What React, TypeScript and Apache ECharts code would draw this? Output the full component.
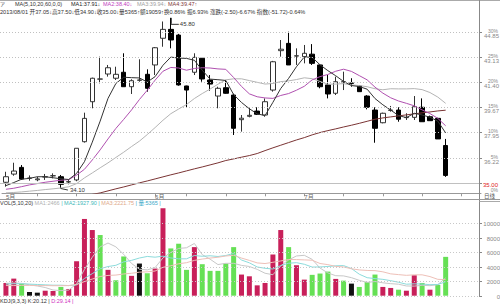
import React, { useEffect, useRef } from 'react';
import * as echarts from 'echarts';

const slotLabels = Array.from({ length: 61 }, (_, i) => String(i + 1));
const opens = [34.53, 35.09, 35.55, 34.80, 34.70, 34.89, 34.97, 34.91, 34.55, 34.69, 37.31, 40.05, 41.60, 41.95, 41.66, 42.07, 41.08, 41.52, 41.93, 42.57, 44.40, 45.01, 44.62, 41.13, 42.07, 43.03, 41.54, 40.44, 41.01, 40.51, 38.82, 39.05, 39.41, 39.14, 40.85, 43.55, 44.05, 43.18, 43.14, 43.31, 42.57, 41.20, 40.63, 41.40, 41.33, 41.13, 40.44, 39.48, 38.61, 39.46, 39.48, 38.96, 38.98, 39.67, 39.02, 38.91, 37.05];
const closes = [34.91, 35.30, 34.75, 34.82, 34.76, 34.91, 34.98, 34.39, 34.57, 36.86, 38.91, 41.66, 41.61, 42.38, 41.93, 41.08, 41.49, 41.54, 40.97, 43.75, 45.01, 44.28, 41.20, 40.85, 43.09, 41.61, 41.26, 40.97, 40.63, 38.23, 38.92, 39.12, 39.19, 40.05, 42.79, 43.65, 42.57, 43.20, 43.37, 42.68, 41.08, 40.58, 41.42, 41.42, 41.31, 40.74, 39.67, 38.23, 39.26, 39.48, 38.85, 38.98, 39.71, 38.68, 38.75, 37.50, 35.00];
const lows = [34.23, 34.98, 34.69, 34.64, 34.60, 34.69, 34.80, 34.10, 34.39, 34.60, 37.25, 39.60, 41.31, 41.77, 41.54, 41.08, 40.58, 41.42, 40.74, 41.88, 43.82, 43.71, 41.15, 39.67, 41.88, 41.42, 40.81, 39.60, 40.60, 37.77, 38.00, 38.98, 39.14, 39.02, 40.74, 43.14, 42.57, 42.57, 42.68, 42.57, 40.97, 40.28, 40.51, 40.85, 41.08, 40.74, 39.53, 37.24, 38.57, 39.37, 38.68, 38.80, 38.80, 38.68, 38.75, 37.50, 34.90];
const highs = [35.25, 35.87, 35.71, 35.00, 34.91, 35.10, 35.14, 35.03, 34.73, 36.86, 39.30, 41.70, 43.14, 42.57, 42.45, 43.37, 41.59, 42.96, 42.27, 43.80, 45.55, 45.80, 44.70, 41.15, 43.37, 43.05, 41.88, 41.08, 41.54, 40.60, 39.14, 39.67, 39.67, 40.28, 42.85, 44.28, 44.85, 43.71, 43.94, 44.00, 42.60, 41.88, 41.77, 42.11, 41.66, 41.16, 40.50, 39.67, 39.30, 39.76, 39.67, 39.26, 40.44, 40.28, 39.10, 38.95, 37.50];

const ma5 = [34.30, 34.51, 34.74, 34.80, 34.91, 34.91, 34.84, 34.77, 34.72, 35.14, 35.94, 37.28, 38.72, 40.28, 41.30, 41.73, 41.70, 41.68, 41.40, 41.77, 42.55, 43.11, 43.04, 43.02, 42.89, 42.21, 41.60, 41.56, 41.51, 40.54, 40.00, 39.57, 39.22, 39.10, 40.01, 40.96, 41.65, 42.45, 43.12, 43.09, 42.58, 42.18, 41.83, 41.44, 41.16, 41.09, 40.91, 40.27, 39.84, 39.48, 39.10, 38.96, 39.26, 39.14, 38.99, 38.72, 37.91];
const ma10 = [34.05, 34.12, 34.23, 34.35, 34.44, 34.53, 34.60, 34.67, 34.71, 35.02, 35.42, 36.06, 36.75, 37.50, 38.22, 38.84, 39.49, 40.20, 40.84, 41.53, 42.14, 42.40, 42.36, 42.21, 42.33, 42.38, 42.36, 42.30, 42.27, 41.71, 41.10, 40.59, 40.39, 40.31, 40.28, 40.48, 40.61, 40.84, 41.11, 41.55, 41.77, 41.92, 42.14, 42.28, 42.13, 41.84, 41.55, 41.05, 40.64, 40.32, 40.10, 39.94, 39.77, 39.49, 39.24, 38.91, 38.40];
const ma20 = [33.80, 33.83, 33.87, 33.92, 33.97, 34.03, 34.08, 34.14, 34.22, 34.44, 34.83, 35.17, 35.52, 35.86, 36.23, 36.59, 36.98, 37.35, 37.80, 38.28, 38.78, 39.23, 39.55, 39.86, 40.27, 40.61, 40.92, 41.25, 41.55, 41.62, 41.62, 41.50, 41.38, 41.26, 41.30, 41.43, 41.48, 41.57, 41.69, 41.63, 41.44, 41.25, 41.26, 41.29, 41.20, 41.16, 41.08, 40.94, 40.87, 40.94, 40.93, 40.93, 40.95, 40.88, 40.68, 40.37, 39.94];
const ma60 = [null, null, null, null, null, null, null, null, null, null, 33.56, 33.70, 33.80, 33.94, 34.08, 34.21, 34.35, 34.49, 34.62, 34.76, 34.90, 35.04, 35.17, 35.31, 35.45, 35.58, 35.72, 35.86, 36.02, 36.13, 36.25, 36.36, 36.50, 36.70, 36.89, 37.07, 37.25, 37.43, 37.59, 37.78, 37.94, 38.07, 38.19, 38.32, 38.44, 38.57, 38.71, 38.85, 38.94, 39.01, 39.08, 39.15, 39.22, 39.29, 39.35, 39.42, 39.47];

const volumes = [1760, 2360, 1670, 510, 420, 690, 650, 1210, 930, 4760, 10600, 9070, 8380, 3570, 2130, 5420, 2740, 4440, 3100, 3750, 12080, 6530, 7180, 3570, 6710, 4350, 3430, 3430, 4440, 6710, 2920, 2680, 1430, 1760, 5690, 9070, 6710, 4210, 2220, 2880, 3060, 3330, 2320, 2080, 1670, 1210, 1900, 2920, 1210, 1070, 830, 690, 2820, 1760, 830, 1490, 5365];
const volumeTone = ['u', 'u', 'd', 'f', 'f', 'u', 'u', 'd', 'u', 'u', 'u', 'u', 'd', 'u', 'd', 'd', 'u', 'f', 'd', 'u', 'u', 'd', 'd', 'd', 'u', 'd', 'd', 'd', 'd', 'd', 'u', 'u', 'u', 'u', 'u', 'u', 'd', 'u', 'u', 'd', 'd', 'd', 'u', 'd', 'f', 'd', 'd', 'd', 'u', 'u', 'd', 'u', 'u', 'd', 'u', 'd', 'd'];
const volMa5 = [1700, 1750, 1700, 1500, 1344, 1130, 788, 696, 780, 1648, 3630, 5314, 6748, 7276, 6750, 5714, 4448, 3660, 3566, 3890, 5222, 5980, 6528, 6622, 7214, 5668, 5048, 4298, 4472, 4472, 4186, 4036, 3636, 3100, 2896, 4126, 4932, 5488, 5580, 5018, 3816, 3140, 2762, 2734, 2492, 2122, 1836, 1956, 1782, 1662, 1586, 1344, 1324, 1434, 1386, 1518, 2466];
const volMa10 = [1600, 1650, 1650, 1600, 1550, 1500, 1450, 1450, 1400, 1496, 2380, 3051, 3722, 4028, 4199, 4672, 4881, 5204, 5421, 5320, 5468, 5214, 5094, 5094, 5552, 5445, 5514, 5413, 5547, 5843, 4927, 4542, 3967, 3786, 3684, 4156, 4484, 4562, 4340, 3957, 3971, 4036, 4125, 4157, 3755, 2969, 2488, 2359, 2258, 2077, 1854, 1590, 1640, 1608, 1524, 1552, 1928];
const volMa20 = [1400, 1400, 1420, 1420, 1400, 1400, 1380, 1380, 1400, 1550, 1950, 2300, 2650, 2800, 2850, 3000, 3100, 3250, 3300, 3408, 3924, 4133, 4408, 4561, 4876, 5059, 5198, 5309, 5484, 5582, 5198, 4878, 4531, 4440, 4618, 4801, 4999, 4988, 4944, 4900, 4449, 4289, 4046, 3972, 3720, 3563, 3486, 3461, 3299, 3017, 2913, 2813, 2883, 2883, 2640, 2261, 2222];

const dateTickIdx = [4, 9, 14, 19, 23, 28, 33, 38, 43, 48, 53, 58];
const dateLabelIdx = [0, 19, 38];
const dateLabelText = ['5月', '6月', '7月'];

const basePrice = 34.5;
const pctSteps = [0, 1, 2, 3, 4, 5, 6];
const pctLabels = ['0%', '5%', '10%', '15%', '20%', '25%', '30%'];
const priceLabels = ['35.00', '36.22', '37.95', '39.67', '41.40', '43.13', '44.85'];
const volTicks = [0, 2000, 4000, 6000, 8000, 10000];
const maxIdx = 21;
const minIdx = 7;

const header1 = [
  { x: 15, t: 'MA(5,10,20,60,0,0)', c: '#333333' },
  { x: 71, t: 'MA1:37.91↓', c: '#222222' },
  { x: 103, t: 'MA2:38.40↓', c: '#c040c0' },
  { x: 137, t: 'MA3:39.94↓', c: '#a0a0a0' },
  { x: 168, t: 'MA4:39.47↑', c: '#803838' },
];
const header2Text = '2013/08/01 开37.05↓高37.50↓低34.90↓收35.00↓量5365↑额19059↑换0.86% 振6.93% 涨跌(-2.50)-6.67% 指数(-51.72)-0.64%';
const volHeader = [
  { t: 'VOL(5,10,20) ', c: '#333333' },
  { t: 'MA1:2466 ', c: '#b0b0b0' },
  { t: '| MA2:1927.90 | ', c: '#40b8b8' },
  { t: 'MA3:2221.75 ', c: '#e0a888' },
  { t: '| 量:5365 |', c: '#3aa8c8' },
];
const kdjHeader = [
  { t: 'KDJ(9,3,3) ', c: '#333333' },
  { t: 'K:20.12 | ', c: '#333333' },
  { t: 'D:29.14 |', c: '#d030c0' },
];

const FONT = '"Liberation Sans", "Noto Sans CJK SC", sans-serif';
const toneColor: Record<string, string> = { u: '#c8205a', d: '#66e055', f: '#111111' };

export default function App() {
  const ref = useRef<HTMLDivElement>(null);
  useEffect(() => {
    document.body.style.margin = '0';
    const chart = echarts.init(ref.current!, null, { renderer: 'svg' });
    const candleData = opens.map((o, i) => [o, closes[i], lows[i], highs[i]]);
    const thin = (color: string) => ({ width: 1, color });
    chart.setOption({
      animation: false,
      backgroundColor: '#ffffff',
      grid: [
        { left: 2, top: 14, width: 479, height: 179.3 },
        { left: 2, top: 205.2, width: 479, height: 90.5 },
      ],
      xAxis: [
        {
          type: 'category', gridIndex: 0, data: slotLabels, boundaryGap: true,
          axisLine: { lineStyle: { color: '#999999', width: 1 } },
          axisTick: { show: true, alignWithLabel: true, length: 3, interval: (i: number) => dateTickIdx.includes(i), lineStyle: { color: '#999999' } },
          axisLabel: {
            interval: (i: number) => dateLabelIdx.includes(i), margin: 1, fontSize: 6, color: '#666666', align: 'left', fontFamily: FONT,
            formatter: (_v: string, i: number) => { const k = dateLabelIdx.indexOf(i); return k >= 0 ? dateLabelText[k] : ''; },
          },
          splitLine: { show: false },
        },
        { type: 'category', gridIndex: 1, data: slotLabels, boundaryGap: true, show: false },
      ],
      yAxis: [
        { type: 'value', gridIndex: 0, min: 33.774, max: 46.063, show: false, scale: true },
        { type: 'value', gridIndex: 1, min: 0, max: 12500, show: false },
      ],
      series: [
        {
          type: 'candlestick', xAxisIndex: 0, yAxisIndex: 0, data: candleData, barWidth: 5,
          itemStyle: { color: '#ffffff', color0: '#000000', borderColor: '#333333', borderColor0: '#000000', borderWidth: 1 },
        },
        { type: 'line', data: ma60, symbol: 'none', lineStyle: thin('#7a3434'), xAxisIndex: 0, yAxisIndex: 0 },
        { type: 'line', data: ma20, symbol: 'none', lineStyle: thin('#b4b4b4'), xAxisIndex: 0, yAxisIndex: 0 },
        { type: 'line', data: ma10, symbol: 'none', lineStyle: thin('#b050b0'), xAxisIndex: 0, yAxisIndex: 0 },
        { type: 'line', data: ma5, symbol: 'none', lineStyle: thin('#333333'), xAxisIndex: 0, yAxisIndex: 0 },
        {
          type: 'bar', xAxisIndex: 1, yAxisIndex: 1, barWidth: 5,
          data: volumes.map((v, i) => ({ value: v, itemStyle: { color: toneColor[volumeTone[i]] } })),
        },
        { type: 'line', data: volMa5, symbol: 'none', lineStyle: thin('#c8c8c8'), xAxisIndex: 1, yAxisIndex: 1 },
        { type: 'line', data: volMa10, symbol: 'none', lineStyle: thin('#8cdcdc'), xAxisIndex: 1, yAxisIndex: 1 },
        { type: 'line', data: volMa20, symbol: 'none', lineStyle: thin('#eec0b8'), xAxisIndex: 1, yAxisIndex: 1 },
      ],
    });

    const g: any[] = [];
    const txt = (x: number, y: number, t: string, fill: string, size = 6, align = 'left') => ({
      type: 'text', x, y, silent: true, z: 100,
      style: { text: t, fill, font: `${size}px ${FONT}`, textAlign: align, textVerticalAlign: 'middle', align, verticalAlign: 'middle' },
    });
    const richTxt = (x: number, y: number, parts: { t: string; c: string }[], size: number) => {
      const rich: Record<string, any> = {};
      let text = '';
      parts.forEach((p, i) => {
        rich['p' + i] = { fill: p.c, color: p.c, fontSize: size, fontFamily: FONT };
        text += `{p${i}|${p.t}}`;
      });
      return {
        type: 'text', x, y, silent: true, z: 100,
        style: { text, rich, font: `${size}px ${FONT}`, textVerticalAlign: 'middle', verticalAlign: 'middle' },
      };
    };
    const line = (x1: number, y1: number, x2: number, y2: number, stroke: string, dash?: number[]) => ({
      type: 'line', silent: true, z: 50, shape: { x1, y1, x2, y2 }, style: { stroke, lineWidth: 1, lineDash: dash },
    });
    // frame
    g.push(line(0, 0.5, 500, 0.5, '#aaaaaa'));
    g.push(line(479.5, 0, 479.5, 297, '#888888'));
    g.push(line(0, 199.5, 500, 199.5, '#999999'));
    g.push(line(479.5, 201.5, 500, 201.5, '#aaaaaa'));
    g.push(txt(484, 196, '日线', '#555555', 5.5));
    // price gridlines and right labels
    pctSteps.forEach((n, k) => {
      const y = Math.round(chart.convertToPixel({ yAxisIndex: 0 }, basePrice * (1 + 0.05 * n)) as number) + 0.5;
      g.push(line(0, y, 479, y, '#c0c0c0', n === 0 ? undefined : [1, 2]));
      g.push(line(479, y, 482, y, '#888888'));
      if (n === 0) {
        g.push(txt(498, y + 1.5, priceLabels[k], '#e02020', 6, 'right'));
        g.push(txt(498, y + 6, pctLabels[k], '#888888', 5, 'right'));
      } else {
        g.push(txt(498, y - 2, pctLabels[k], '#888888', 5, 'right'));
        g.push(txt(499, y + 3, priceLabels[k], '#888888', 6, 'right'));
      }
    });
    // volume gridlines
    volTicks.forEach((v) => {
      const y = Math.round(chart.convertToPixel({ yAxisIndex: 1 }, v) as number) + 0.5;
      g.push(line(0, y, 479, y, '#c8c8c8', [1, 2]));
      g.push(line(479, y, 482, y, '#888888'));
      g.push(txt(500, y, String(v), '#888888', 6, 'right'));
    });
    // max / min markers
    const xMax = chart.convertToPixel({ xAxisIndex: 0 }, maxIdx) as number;
    const yMax = chart.convertToPixel({ yAxisIndex: 0 }, highs[maxIdx]) as number;
    g.push(line(xMax + 0.5, yMax, xMax + 0.5, yMax + 6, '#333333'));
    g.push(line(xMax, yMax + 6.5, xMax + 8, yMax + 6.5, '#333333'));
    g.push(txt(xMax + 9, yMax + 6, highs[maxIdx].toFixed(2), '#333333', 6));
    const xMin = chart.convertToPixel({ xAxisIndex: 0 }, minIdx) as number;
    const yMin = chart.convertToPixel({ yAxisIndex: 0 }, lows[minIdx]) as number;
    g.push(line(xMin, yMin, xMin + 7, yMin + 1.5, '#333333'));
    g.push(txt(xMin + 9, yMin + 1.5, lows[minIdx].toFixed(2), '#333333', 6));
    // headers
    g.push(txt(0, 4, 'ア', '#333333', 5));
    header1.forEach((h) => g.push(txt(h.x, 4, h.t, h.c, 5.5)));
    g.push(txt(0, 12, header2Text, '#333333', 5.6));
    g.push(richTxt(0, 203, volHeader, 5.5));
    g.push(richTxt(0, 301, kdjHeader, 5.5));
    chart.setOption({ graphic: g });
    return () => chart.dispose();
  }, []);
  return <div ref={ref} style={{ width: 500, height: 305 }} />;
}
